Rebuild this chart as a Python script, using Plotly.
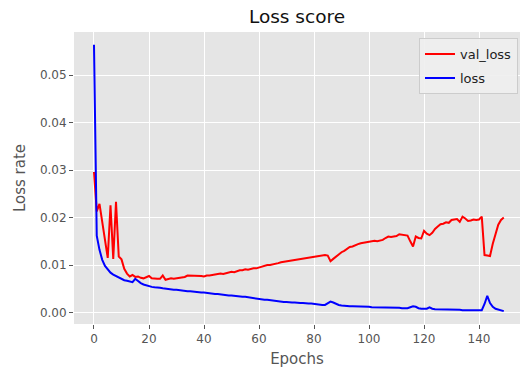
import plotly.graph_objects as go

epochs = list(range(150))

val_loss = [
    0.0296, 0.0213, 0.0229, 0.0190, 0.0150, 0.0115, 0.0226, 0.0113, 0.0233, 0.0118,
    0.0112, 0.0092, 0.0082, 0.0076, 0.0079, 0.0075, 0.0076, 0.0073, 0.0072, 0.0075,
    0.0077, 0.0072, 0.0071, 0.0071, 0.0071, 0.0078, 0.0069, 0.0070, 0.0072, 0.0071,
    0.0072, 0.0073, 0.0073, 0.0075, 0.0078, 0.0078, 0.0077, 0.0077, 0.0077, 0.0077,
    0.0076, 0.0078, 0.0078, 0.0079, 0.0080, 0.0080, 0.0082, 0.0081, 0.0083, 0.0085,
    0.0086, 0.0085, 0.0087, 0.0089, 0.0089, 0.0091, 0.0090, 0.0092, 0.0093, 0.0093,
    0.0095, 0.0096, 0.0099, 0.0100, 0.0100, 0.0101, 0.0102, 0.0104, 0.0106, 0.0107,
    0.0107, 0.0108, 0.0109, 0.0110, 0.0111, 0.0112, 0.0114, 0.0114, 0.0116, 0.0117,
    0.0117, 0.0119, 0.0119, 0.0121, 0.0121, 0.0120, 0.0108, 0.0113, 0.0118, 0.0124,
    0.0127, 0.0130, 0.0134, 0.0138, 0.0139, 0.0142, 0.0144, 0.0146, 0.0147, 0.0147,
    0.0149, 0.0150, 0.0151, 0.0150, 0.0151, 0.0153, 0.0157, 0.0160, 0.0159, 0.0160,
    0.0161, 0.0165, 0.0164, 0.0164, 0.0162, 0.0150, 0.0139, 0.0160, 0.0157, 0.0156,
    0.0172, 0.0166, 0.0163, 0.0168, 0.0176, 0.0181, 0.0186, 0.0187, 0.0190, 0.0189,
    0.0195, 0.0196, 0.0197, 0.0191, 0.0202, 0.0198, 0.0193, 0.0194, 0.0196, 0.0195,
    0.0196, 0.0202, 0.0121, 0.0120, 0.0119, 0.0145, 0.0166, 0.0185, 0.0195, 0.0200,
]

loss = [
    0.0564, 0.0162, 0.0132, 0.0111, 0.0098, 0.0091, 0.0084, 0.0080, 0.0077, 0.0074,
    0.0071, 0.0068, 0.0067, 0.0065, 0.0064, 0.0071, 0.0066, 0.0062, 0.0059, 0.0057,
    0.0055, 0.0054, 0.0053, 0.0053, 0.0052, 0.0051, 0.0050, 0.0050, 0.0049, 0.0048,
    0.0048, 0.0047, 0.0047, 0.0046, 0.0045, 0.0045, 0.0044, 0.0044, 0.0043, 0.0042,
    0.0042, 0.0041, 0.0041, 0.0040, 0.0039, 0.0039, 0.0038, 0.0038, 0.0037, 0.0036,
    0.0036, 0.0035, 0.0035, 0.0034, 0.0033, 0.0033, 0.0032, 0.0031, 0.0030, 0.0029,
    0.0028, 0.0028, 0.0027, 0.0027, 0.0026, 0.0025, 0.0025, 0.0024, 0.0023, 0.0022,
    0.0022, 0.0021, 0.0021, 0.0021, 0.0020, 0.0020, 0.0020, 0.0019, 0.0019, 0.0019,
    0.0018, 0.0017, 0.0017, 0.0016, 0.0016, 0.0019, 0.0023, 0.0021, 0.0018, 0.0016,
    0.0015, 0.0014, 0.0014, 0.0013, 0.0013, 0.0013, 0.0012, 0.0012, 0.0012, 0.0012,
    0.0012, 0.0011, 0.0011, 0.0011, 0.0011, 0.0011, 0.0010, 0.0010, 0.0010, 0.0010,
    0.0010, 0.0010, 0.0009, 0.0009, 0.0009, 0.0011, 0.0013, 0.0012, 0.0009, 0.0008,
    0.0008, 0.0008, 0.0011, 0.0008, 0.0007, 0.0007, 0.0007, 0.0007, 0.0006, 0.0006,
    0.0006, 0.0006, 0.0006, 0.0006, 0.0005, 0.0005, 0.0005, 0.0005, 0.0005, 0.0005,
    0.0005, 0.0005, 0.0018, 0.0035, 0.0020, 0.0012, 0.0008, 0.0006, 0.0004, 0.0003,
]

x_ticks = [0, 20, 40, 60, 80, 100, 120, 140]
y_ticks = [0.00, 0.01, 0.02, 0.03, 0.04, 0.05]

FONT = "DejaVu Sans"
GREY = "#555555"

fig = go.Figure()
fig.add_trace(go.Scatter(x=epochs, y=val_loss, mode="lines", name="val_loss",
                         legendgroup="a", line=dict(color="red", width=2)))
fig.add_trace(go.Scatter(x=epochs, y=loss, mode="lines", name="loss",
                         legendgroup="b", line=dict(color="blue", width=2)))

fig.update_layout(
    width=520, height=371,
    margin=dict(l=74, r=0, t=32, b=47),
    paper_bgcolor="white",
    plot_bgcolor="#E5E5E5",
    font=dict(family=FONT, color=GREY, size=12),
    title=dict(text="Loss score", x=0.5, xref="paper", xanchor="center",
               y=1 - 17 / 371, yref="container", yanchor="middle",
               font=dict(family=FONT, size=18.5, color="#111111")),
    showlegend=True,
    legend=dict(x=0.9955, y=0.979, xanchor="right", yanchor="top",
                bgcolor="rgba(238,238,238,0.9)", bordercolor="#CCCCCC", borderwidth=1,
                font=dict(family=FONT, size=13, color="#222222"),
                tracegroupgap=4, itemwidth=30),
)

fig.update_xaxes(
    range=[-7.27, 154.9],
    tickvals=x_ticks, ticktext=[str(v) for v in x_ticks],
    ticks="outside", ticklen=4, tickcolor=GREY, tickwidth=1,
    showgrid=True, gridcolor="white", gridwidth=1,
    zeroline=False, showline=False,
    tickfont=dict(family=FONT, size=12, color=GREY),
    title=dict(text="Epochs", font=dict(family=FONT, size=15, color=GREY), standoff=8),
)
fig.update_yaxes(
    range=[-0.00242, 0.0591],
    tickvals=y_ticks, ticktext=[f"{v:.2f}" for v in y_ticks],
    ticks="outside", ticklen=4, tickcolor=GREY, tickwidth=1,
    showgrid=True, gridcolor="white", gridwidth=1,
    zeroline=False, showline=False,
    tickfont=dict(family=FONT, size=12, color=GREY),
    title=dict(text="Loss rate", font=dict(family=FONT, size=15, color=GREY), standoff=10),
)

fig.write_html(
    "out.html",
    config={"displayModeBar": False},
    post_script="document.body.style.margin='0';document.body.style.padding='0';"
                "document.body.style.overflow='hidden';",
)
